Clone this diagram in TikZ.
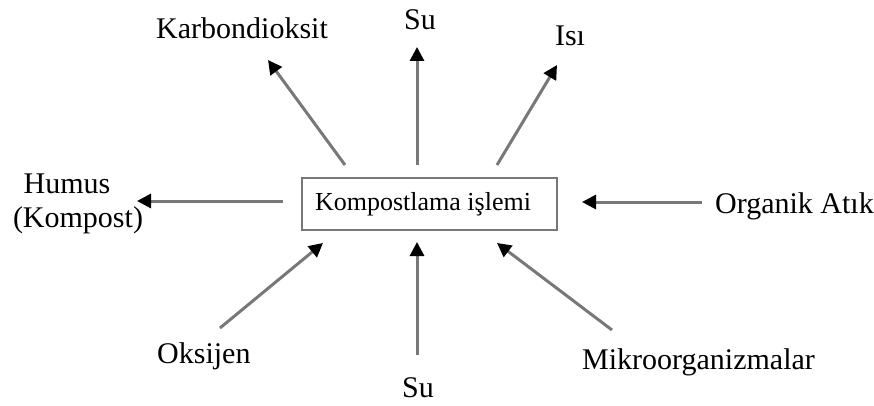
\documentclass[tikz,border=0pt]{standalone}
\usepackage{fontspec}
\setmainfont{Liberation Serif}
\usetikzlibrary{arrows.meta}
\definecolor{linegray}{RGB}{120,120,120}
\tikzset{
  lbl/.style={inner sep=0pt, anchor=base, font=\fontsize{30}{34}\selectfont},
  procbox/.style={draw=linegray, line width=2.4pt, rectangle, minimum width=255pt, minimum height=52pt, inner sep=0pt},
  boxtext/.style={inner sep=0pt, font=\fontsize{26}{30}\selectfont},
  flow/.style={draw=linegray, line width=3pt, -{Triangle[color=black, length=14pt, width=14pt]}}
}
\begin{document}
\begin{tikzpicture}[x=1pt, y=-1pt]
\useasboundingbox (0,0) rectangle (874,406);
\node[procbox] (box) at (429.5,204) {};
\node[boxtext] (boxlabel) at (423,204) {Kompostlama işlemi};
\node[lbl] (humus) at (67,193) {Humus};
\node[lbl] (kompost) at (78,227) {(Kompost)};
\node[lbl, anchor=base west] (karbon) at (156,39) {Karbondioksit};
\node[lbl] (sutop) at (420,30) {Su};
\node[lbl] (isi) at (570,46) {Isı};
\node[lbl, anchor=base west] (organik) at (715,213) {Organik Atık};
\node[lbl, anchor=base west] (oksijen) at (157,363) {Oksijen};
\node[lbl] (subot) at (418,397) {Su};
\node[lbl, anchor=base west] (mikro) at (582,369) {Mikroorganizmalar};

\coordinate (hA) at (283,201); \coordinate (hB) at (137,201);
\coordinate (oA) at (702,202); \coordinate (oB) at (582,202);
\coordinate (kA) at (345,165); \coordinate (kB) at (268,60);
\coordinate (sA) at (417,165); \coordinate (sB) at (417,47);
\coordinate (iA) at (497,165); \coordinate (iB) at (557,65);
\coordinate (xA) at (220,328); \coordinate (xB) at (323,243);
\coordinate (uA) at (417,355); \coordinate (uB) at (417,242);
\coordinate (mA) at (612,330); \coordinate (mB) at (497,243);

\draw[flow] (hA) -- (hB);
\draw[flow] (oA) -- (oB);
\draw[flow] (kA) -- (kB);
\draw[flow] (sA) -- (sB);
\draw[flow] (iA) -- (iB);
\draw[flow] (xA) -- (xB);
\draw[flow] (uA) -- (uB);
\draw[flow] (mA) -- (mB);
\end{tikzpicture}
\end{document}
